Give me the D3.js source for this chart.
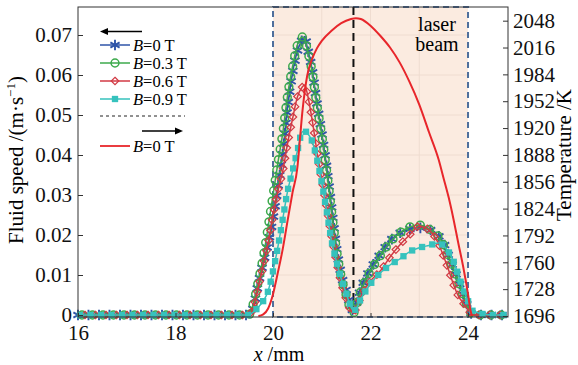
<!DOCTYPE html>
<html>
<head>
<meta charset="utf-8">
<script src="https://cdn.jsdelivr.net/npm/d3@7"></script>
<style>
  body { margin: 0; background: #fff; }
  svg { display: block; font-family: "Liberation Serif", "DejaVu Serif", serif; }
</style>
</head>
<body>
<div id="chart"></div>
<script>
// x positions (mm) shared by the fluid speed series
const xs = [16.0, 16.5, 17.0, 17.5, 18.0, 18.5, 19.0, 19.5,
  19.6, 19.7, 19.8, 19.9, 20.0, 20.1, 20.2, 20.3, 20.4, 20.5, 20.6, 20.65,
  20.7, 20.8, 20.9, 21.0, 21.1, 21.2, 21.3, 21.4, 21.5, 21.6, 21.65,
  21.7, 21.8, 21.9, 22.0, 22.2, 22.4, 22.6, 22.8, 23.0, 23.2, 23.4,
  23.5, 23.6, 23.7, 23.8, 23.9, 24.0, 24.1, 24.5, 24.8];

// fluid speed (m/s)
const speedB0 = [0, 0, 0, 0, 0, 0, 0, 0,
  0.002, 0.008, 0.013, 0.018, 0.024, 0.032, 0.0405, 0.052, 0.0605, 0.066, 0.0688, 0.0696,
  0.067, 0.0615, 0.053, 0.0455, 0.037, 0.027, 0.017, 0.010, 0.0062, 0.002, 0.001,
  0.0025, 0.0065, 0.0093, 0.0115, 0.0152, 0.0185, 0.0205, 0.0215, 0.0218, 0.0214, 0.0197,
  0.018, 0.0148, 0.0118, 0.0087, 0.0052, 0.002, 0, 0, 0];
const speedB03 = [0, 0, 0, 0, 0, 0, 0, 0,
  0.003, 0.0085, 0.0145, 0.022, 0.030, 0.038, 0.0455, 0.055, 0.062, 0.0675, 0.0695, 0.069,
  0.0665, 0.061, 0.0525, 0.045, 0.036, 0.026, 0.0165, 0.0095, 0.005, 0.0012, 0.0005,
  0.002, 0.006, 0.0088, 0.011, 0.0148, 0.0182, 0.0205, 0.022, 0.0225, 0.0215, 0.0195,
  0.0175, 0.0145, 0.0115, 0.0082, 0.005, 0.0018, 0, 0, 0];
const speedB06 = [0, 0, 0, 0, 0, 0, 0, 0,
  0.002, 0.007, 0.0125, 0.018, 0.025, 0.031, 0.036, 0.043, 0.049, 0.0545, 0.057, 0.0575,
  0.0555, 0.049, 0.041, 0.034, 0.027, 0.020, 0.0135, 0.008, 0.004, 0.001, 0.0005,
  0.0015, 0.0045, 0.0068, 0.0085, 0.011, 0.0145, 0.0175, 0.020, 0.0222, 0.0212, 0.0177,
  0.0146, 0.0113, 0.0077, 0.0048, 0.003, 0.0013, 0, 0, 0];
const speedB09 = [0, 0, 0, 0, 0, 0, 0, 0,
  0.0008, 0.002, 0.0035, 0.006, 0.011, 0.017, 0.024, 0.031, 0.036, 0.041, 0.0458, 0.046,
  0.0455, 0.0435, 0.039, 0.033, 0.026, 0.0185, 0.0135, 0.009, 0.0055, 0.002, 0.001,
  0.0015, 0.004, 0.006, 0.0078, 0.0105, 0.0125, 0.014, 0.0158, 0.0168, 0.0174, 0.018,
  0.0173, 0.0158, 0.0135, 0.010, 0.0065, 0.0035, 0.001, 0, 0];

// temperature (K), B = 0 T
const tempX = [19.7, 19.8, 19.9, 20.0, 20.1, 20.2, 20.3, 20.4, 20.5, 20.55, 20.6, 20.65, 20.7,
  20.8, 20.9, 21.0, 21.2, 21.4, 21.6, 21.7, 21.8, 22.0, 22.2, 22.4, 22.6, 22.8, 23.0, 23.2,
  23.4, 23.5, 23.6, 23.7, 23.8, 23.9, 24.0, 24.05, 24.08];
const tempK = [1696, 1698, 1705, 1722, 1748, 1776, 1810, 1843, 1873, 1905, 1938, 1963, 1982,
  2002, 2015, 2024, 2036, 2045, 2050, 2051, 2050, 2042, 2030, 2016, 1998, 1975, 1948, 1915,
  1882, 1860, 1838, 1812, 1783, 1755, 1722, 1703, 1696];

const speedTicks = [0, 0.01, 0.02, 0.03, 0.04, 0.05, 0.06, 0.07];
const speedLabels = ['0', '0.01', '0.02', '0.03', '0.04', '0.05', '0.06', '0.07'];
const tempTicks = [1696, 1728, 1760, 1792, 1824, 1856, 1888, 1920, 1952, 1984, 2016, 2048];
const xTicks = [16, 18, 20, 22, 24];
const gridX = [21, 22, 23];
const laserRange = [20, 24];
const laserCenter = 21.65;

const W = 578, H = 365;
const margin = {top: 7, right: 70, bottom: 48, left: 78};
const bottom = H - margin.bottom;
const right = W - margin.right;

const svg = d3.select('#chart').append('svg')
  .attr('width', W)
  .attr('height', H);

const x = d3.scaleLinear().domain([16, 24.82]).range([margin.left, right]);
const y = d3.scaleLinear().domain([-0.0005, 0.077]).range([bottom, margin.top]);
const yT = d3.scaleLinear().domain([1694.8, 2064.3]).range([bottom, margin.top]);

// laser beam zone
const zone = svg.append('g');
zone.append('rect')
  .attr('x', x(laserRange[0]))
  .attr('y', margin.top)
  .attr('width', x(laserRange[1]) - x(laserRange[0]))
  .attr('height', bottom - margin.top)
  .attr('fill', '#fbebe0');
zone.selectAll('.gx').data(gridX).enter().append('line')
  .attr('x1', d => x(d)).attr('x2', d => x(d))
  .attr('y1', margin.top).attr('y2', bottom)
  .attr('stroke', '#efdcd0').attr('stroke-width', 1);
zone.selectAll('.gy').data(speedTicks.slice(1)).enter().append('line')
  .attr('x1', x(laserRange[0])).attr('x2', x(laserRange[1]))
  .attr('y1', d => y(d)).attr('y2', d => y(d))
  .attr('stroke', '#efdcd0').attr('stroke-width', 1);
zone.append('rect')
  .attr('x', x(laserRange[0]))
  .attr('y', margin.top)
  .attr('width', x(laserRange[1]) - x(laserRange[0]))
  .attr('height', bottom - margin.top)
  .attr('fill', 'none')
  .attr('stroke', '#4e6f9c')
  .attr('stroke-width', 2)
  .attr('stroke-dasharray', '6,4');
zone.append('line')
  .attr('x1', x(laserCenter)).attr('x2', x(laserCenter))
  .attr('y1', margin.top).attr('y2', bottom)
  .attr('stroke', '#111').attr('stroke-width', 2)
  .attr('stroke-dasharray', '8,5');
zone.append('text')
  .attr('x', 437).attr('y', 31)
  .attr('text-anchor', 'middle').attr('font-size', '20px')
  .text('laser');
zone.append('text')
  .attr('x', 437).attr('y', 51)
  .attr('text-anchor', 'middle').attr('font-size', '20px')
  .text('beam');

// marker shapes
const symStar = d3.symbol().type(d3.symbolAsterisk).size(80);
const symCircle = d3.symbol().type(d3.symbolCircle).size(48);
const symDiamond = d3.symbol().type(d3.symbolDiamond2).size(36);
const symSquare = d3.symbol().type(d3.symbolSquare).size(40);

const series = [
  {label: '=0 T', values: speedB0, color: '#2f55a8', sym: symStar, fill: 'none', sw: 1.9, offset: 0},
  {label: '=0.3 T', values: speedB03, color: '#3daa4c', sym: symCircle, fill: 'none', sw: 1.5, offset: 4},
  {label: '=0.6 T', values: speedB06, color: '#d23a44', sym: symDiamond, fill: 'none', sw: 1.2, offset: 7},
  {label: '=0.9 T', values: speedB09, color: '#36c2bd', sym: symSquare, fill: '#36c2bd', sw: 0, offset: 2}
];

const line = d3.line()
  .x(d => x(d[0]))
  .y(d => y(d[1]))
  .curve(d3.curveMonotoneX);

const spacing = 10.5;
series.forEach(s => {
  const pts = xs.map((v, i) => [v, s.values[i]]);
  const g = svg.append('g');
  const path = g.append('path')
    .attr('d', line(pts))
    .attr('fill', 'none')
    .attr('stroke', s.color)
    .attr('stroke-width', 1.5);
  const node = path.node();
  const L = node.getTotalLength();
  const marks = [];
  for (let t = s.offset; t <= L; t += spacing) {
    const p = node.getPointAtLength(t);
    marks.push([p.x, p.y]);
  }
  g.selectAll('path.m').data(marks).enter().append('path')
    .attr('class', 'm')
    .attr('d', s.sym)
    .attr('transform', d => `translate(${d[0]},${d[1]})`)
    .attr('fill', s.fill)
    .attr('stroke', s.sw ? s.color : 'none')
    .attr('stroke-width', s.sw);
});

// temperature line
const tLine = d3.line()
  .x(d => x(d[0]))
  .y(d => yT(d[1]))
  .curve(d3.curveMonotoneX);
svg.append('path')
  .attr('d', tLine(tempX.map((v, i) => [v, tempK[i]])))
  .attr('fill', 'none')
  .attr('stroke', '#e8262b')
  .attr('stroke-width', 2);

// axes
const fontTick = '21px';
const yAxis = svg.append('g')
  .attr('transform', `translate(${margin.left},0)`)
  .call(d3.axisLeft(y).tickValues(speedTicks).tickFormat((d, i) => speedLabels[i])
    .tickSize(-5).tickPadding(6));
const tAxis = svg.append('g')
  .attr('transform', `translate(${right},0)`)
  .call(d3.axisRight(yT).tickValues(tempTicks).tickFormat(d3.format('d'))
    .tickSize(-5).tickPadding(5));
const xAxis = svg.append('g')
  .attr('transform', `translate(0,${bottom})`)
  .call(d3.axisBottom(x).tickValues(xTicks).tickFormat(d3.format('d'))
    .tickSize(-4).tickPadding(8));
[yAxis, tAxis, xAxis].forEach(a => {
  a.select('.domain').remove();
  a.selectAll('text').attr('font-size', fontTick).attr('font-family', '"Liberation Serif", serif').attr('fill', '#111');
  a.selectAll('line').attr('stroke', '#333');
});

svg.append('rect')
  .attr('x', margin.left).attr('y', margin.top)
  .attr('width', right - margin.left).attr('height', bottom - margin.top)
  .attr('fill', 'none').attr('stroke', '#333').attr('stroke-width', 1);

// axis titles
const xt = svg.append('text')
  .attr('x', 279).attr('y', 361)
  .attr('text-anchor', 'middle').attr('font-size', '20px');
xt.append('tspan').attr('font-style', 'italic').text('x');
xt.append('tspan').text(' /mm');

const yl = svg.append('text')
  .attr('transform', 'translate(23,160) rotate(-90)')
  .attr('text-anchor', 'middle').attr('font-size', '21px');
yl.append('tspan').text('Fluid speed /(m·s');
yl.append('tspan').attr('font-size', '13px').attr('dy', '-8').text('−1');
yl.append('tspan').attr('dy', '8').text(')');

svg.append('text')
  .attr('transform', 'translate(571,155) rotate(-90)')
  .attr('text-anchor', 'middle').attr('font-size', '21px')
  .text('Temperature /K');

// legend
const lg = svg.append('g');
const arrow = (x1, x2, yy) => {
  const dir = Math.sign(x2 - x1);
  lg.append('line')
    .attr('x1', x1).attr('x2', x2 - dir * 6)
    .attr('y1', yy).attr('y2', yy)
    .attr('stroke', '#000').attr('stroke-width', 1.6);
  lg.append('path')
    .attr('d', `M${x2},${yy} L${x2 - dir * 8},${yy - 3.5} L${x2 - dir * 8},${yy + 3.5} Z`)
    .attr('fill', '#000');
};
arrow(142, 100, 31.5);

const rowY = [45, 63, 81, 99];
series.forEach((s, i) => {
  const yy = rowY[i];
  lg.append('line')
    .attr('x1', 100).attr('x2', 130).attr('y1', yy).attr('y2', yy)
    .attr('stroke', s.color).attr('stroke-width', 1.5);
  lg.append('path')
    .attr('d', s.sym)
    .attr('transform', `translate(115,${yy})`)
    .attr('fill', s.fill)
    .attr('stroke', s.sw ? s.color : 'none')
    .attr('stroke-width', s.sw);
  const t = lg.append('text').attr('x', 133).attr('y', yy + 5.5).attr('font-size', '16.5px');
  t.append('tspan').attr('font-style', 'italic').text('B');
  t.append('tspan').text(s.label);
});

lg.append('line')
  .attr('x1', 100).attr('x2', 185).attr('y1', 116).attr('y2', 116)
  .attr('stroke', '#222').attr('stroke-width', 1).attr('stroke-dasharray', '3,3');
arrow(142, 183, 131);
lg.append('line')
  .attr('x1', 100).attr('x2', 130).attr('y1', 146).attr('y2', 146)
  .attr('stroke', '#e8262b').attr('stroke-width', 1.8);
const tt = lg.append('text').attr('x', 133).attr('y', 151.5).attr('font-size', '16.5px');
tt.append('tspan').attr('font-style', 'italic').text('B');
tt.append('tspan').text('=0 T');
</script>
</body>
</html>
